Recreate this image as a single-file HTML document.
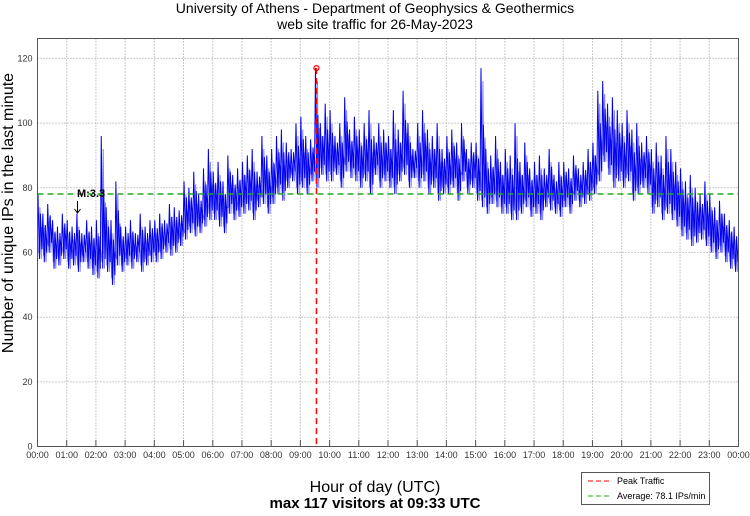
<!DOCTYPE html>
<html><head><meta charset="utf-8"><style>
body{margin:0;background:#fff;width:750px;height:511px;overflow:hidden}
svg{font-family:"Liberation Sans",Helvetica,sans-serif}
</style></head><body>
<svg id="chart" width="750" height="511">
<text x="375" y="13" text-anchor="middle" font-size="14">University of Athens - Department of Geophysics &amp; Geothermics</text>
<text x="375" y="29" text-anchor="middle" font-size="14">web site traffic for 26-May-2023</text>
<text transform="translate(13,213) rotate(-90)" text-anchor="middle" font-size="16">Number of unique IPs in the last minute</text>
<text x="375" y="492" text-anchor="middle" font-size="16">Hour of day (UTC)</text>
<text x="375" y="508" text-anchor="middle" font-size="15" font-weight="bold">max 117 visitors at 09:33 UTC</text>
<g id="grid"></g><g id="series"></g><g id="overlay"></g>
<rect x="37.5" y="38.5" width="701" height="408" fill="none" stroke="#555" stroke-width="1"/>
<g>
<rect x="581.5" y="472.5" width="128" height="32" fill="#fff" stroke="#555"/>
<line x1="588" y1="481" x2="612" y2="481" stroke="#f00" stroke-dasharray="5,3"/>
<text x="617" y="484" font-size="9">Peak Traffic</text>
<line x1="588" y1="496" x2="612" y2="496" stroke="#2a2" stroke-dasharray="5,3"/>
<text x="617" y="499" font-size="9">Average: 78.1 IPs/min</text>
</g>
</svg>
<script>
const yTicks=[0,20,40,60,80,100,120];
const hourLabels=["00:00","01:00","02:00","03:00","04:00","05:00","06:00","07:00","08:00","09:00","10:00","11:00","12:00","13:00","14:00","15:00","16:00","17:00","18:00","19:00","20:00","21:00","22:00","23:00","00:00"];
const hiVals=[78,72,75,70,68,72, 70,68,72,66,70,68, 70,96,74,70,82,68, 68,70,66,72,68,70, 70,72,70,75,74,73, 82,80,85,78,86,92,
85,88,82,90,84,86, 88,90,92,85,96,90, 92,96,98,94,92,100, 102,96,95,117,100,106, 104,96,100,108,98,102, 98,100,104,96,100,98,
96,104,98,110,100,92, 100,104,98,96,100,92, 96,98,94,100,92,94, 94,117,92,90,96,88, 92,90,100,88,94,86, 88,90,86,92,84,88,
88,86,90,86,88,92, 94,110,113,106,108,104, 100,104,98,100,94,96, 92,94,90,96,92,88, 86,82,84,80,78,82, 78,74,76,72,70,68];
const loVals=[58,57,60,55,56,58, 55,56,54,57,55,53, 52,55,54,50,56,54, 56,55,57,54,56,57, 57,58,60,59,60,62, 64,66,65,66,68,70,
70,68,66,72,70,71, 72,73,70,74,75,72, 75,78,76,80,82,78, 80,78,82,80,84,82, 82,84,80,85,83,82, 80,82,78,84,80,82,
80,78,82,84,80,83, 80,82,78,80,76,78, 78,80,76,82,78,80, 76,74,72,75,74,72, 72,70,70,72,74,71, 72,70,74,73,72,71,
74,72,76,74,75,76, 78,82,88,84,80,82, 80,82,76,78,80,78, 72,74,70,72,70,68, 65,64,62,63,64,62, 60,58,60,57,55,54];
const average=78.1, peakMinute=573, peakValue=117;
const X0=37.5,W=701,Y0=446.6,K=3.235;
const xs=m=>X0+m/1440*W, ys=v=>Y0-v*K;
const NS="http://www.w3.org/2000/svg";
function mk(p,tag,at){const e=document.createElementNS(NS,tag);for(const k in at)e.setAttribute(k,at[k]);p.appendChild(e);return e;}
const grid=document.getElementById('grid');
yTicks.forEach(v=>{
 if(v>0){const l=mk(grid,'line',{x1:X0,x2:X0+W,y1:ys(v),y2:ys(v),stroke:'#999','stroke-dasharray':'1,2'});
 
 }
 const t=mk(grid,'text',{x:X0-5,y:ys(v)+3,'text-anchor':'end','font-size':9,fill:'#333'});t.textContent=v;
 
 
});
hourLabels.forEach((h,i)=>{
 const x=xs(i*60);
 if(i>0&&i<24){const l=mk(grid,'line',{x1:x,x2:x,y1:38.5,y2:446.5,stroke:'#999','stroke-dasharray':'1,2'});
 
 }
 const tk=mk(grid,'line',{x1:x,x2:x,y1:440,y2:446.5,stroke:'#555'});
 
 
 const t=mk(grid,'text',{x:x,y:458,'text-anchor':'middle','font-size':9,fill:'#333'});t.textContent=h;
 
 
});
const ser=document.getElementById('series');
let p1=[],p2=[];
hiVals.forEach((h,i)=>{const l=loVals[i],b=i*10;
 p1.push(xs(b+1)+','+ys(h),xs(b+4)+','+ys(l),xs(b+6)+','+ys((h+l)/2+4),xs(b+9)+','+ys(l+3));
 p2.push(xs(b+2.5)+','+ys(l+2),xs(b+5)+','+ys(h-4),xs(b+7.5)+','+ys(l),xs(b+9.5)+','+ys((h+l)/2));
});
const s2=mk(ser,'polyline',{points:p2.join(' '),fill:'none',stroke:'#8080ff','stroke-width':1});


const s1=mk(ser,'polyline',{points:p1.join(' '),fill:'none',stroke:'#0000ee','stroke-width':1});


const ov=document.getElementById('overlay');
const av=mk(ov,'line',{x1:X0,x2:X0+W,y1:ys(average),y2:ys(average),stroke:'#2a2','stroke-width':1.5,'stroke-dasharray':'6,4'});


const pk=mk(ov,'line',{x1:xs(peakMinute),x2:xs(peakMinute),y1:ys(peakValue),y2:446,stroke:'#f00','stroke-width':1.5,'stroke-dasharray':'6,4'});


const pc=mk(ov,'circle',{cx:xs(peakMinute),cy:ys(peakValue),r:2.5,fill:'none',stroke:'#f00','stroke-width':1.2});


const mt=mk(ov,'text',{x:77,y:197,'font-size':11,'font-weight':'bold'});mt.textContent='M:3.3';


const ma=mk(ov,'path',{d:'M77.5,201 V213 M74.5,209 L77.5,213 L80.5,209',fill:'none',stroke:'#000','stroke-width':1});


</script>
</body></html>
